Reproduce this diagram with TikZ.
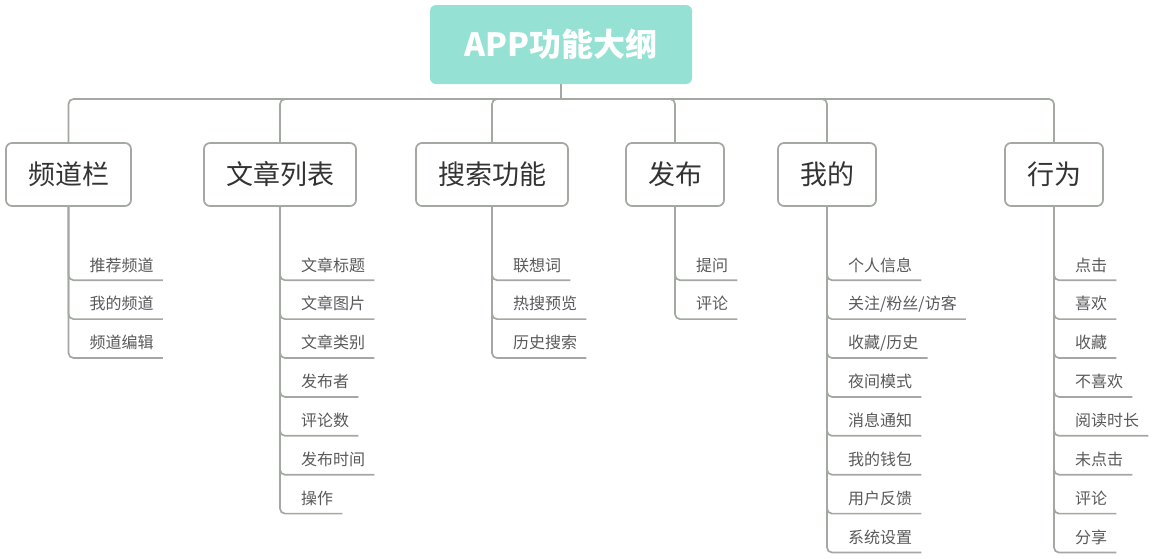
\documentclass[tikz,border=0pt]{standalone}
\usepackage{fontspec}
\setmainfont{Noto Sans CJK SC}
\usepackage{tikz}
\usetikzlibrary{calc}
\definecolor{lineGray}{HTML}{A4A8A2}
\definecolor{rootColor}{HTML}{95E1D3}
\definecolor{catText}{HTML}{333333}
\definecolor{itemText}{HTML}{595959}

\begin{document}
\begin{tikzpicture}[x=1pt, y=-1pt,
    link/.style={draw=lineGray, line width=1.7pt, rounded corners=5pt},
    catbox/.style={draw=lineGray, line width=1.7pt, fill=white, rounded corners=6pt,
        minimum height=63pt, inner xsep=22pt, text=catText, font=\fontsize{27}{27}\selectfont},
    item/.style={anchor=base west, inner xsep=9pt, inner ysep=0pt, text depth=9pt,
        text=itemText, font=\fontsize{16}{16}\selectfont}]
    \useasboundingbox (0,0) rectangle (1153,558);
    \node[fill=rootColor, rounded corners=6pt, minimum width=262pt, minimum height=79pt,
        text=white, font=\fontsize{32}{32}\selectfont\bfseries] (root) at (561,44.5) {APP功能大纲};
    \coordinate (hub) at (561,99);
    \draw[link] (root.south) -- (hub);
    \foreach \nm/\cx/\lbl/\items in {
        pd/68.5/频道栏/{推荐频道,我的频道,频道编辑},
        wz/280/文章列表/{文章标题,文章图片,文章类别,发布者,评论数,发布时间,操作},
        ss/492/搜索功能/{联想词,热搜预览,历史搜索},
        fb/675/发布/{提问,评论},
        wd/827/我的/{个人信息,关注/粉丝/访客,收藏/历史,夜间模式,消息通知,我的钱包,用户反馈,系统设置},
        xw/1054/行为/{点击,喜欢,收藏,不喜欢,阅读时长,未点击,评论,分享}} {
        \node[catbox] (\nm) at (\cx,174.5) {\lbl};
        \draw[link] (hub) -| (\nm.north);
        \foreach \it [count=\k] in \items {
            \node[item] (\nm-\k) at ({\cx+12},{271+38.9*(\k-1)}) {\it};
            \draw[link] (\nm.south) |- (\nm-\k.south east);
        }
    }
\end{tikzpicture}
\end{document}
